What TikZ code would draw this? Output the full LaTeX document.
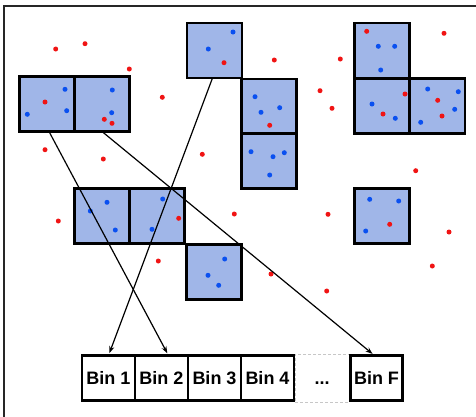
\documentclass[tikz,border=0pt]{standalone}
\usepackage{fontspec}
\setmainfont{Liberation Sans}
\usetikzlibrary{arrows.meta}
\definecolor{sqfill}{RGB}{160,182,232}
\definecolor{dotred}{RGB}{240,20,20}
\definecolor{dotblue}{RGB}{10,80,240}
\begin{document}
\begin{tikzpicture}[x=1bp,y=-1bp,
  sq/.style={draw=black, fill=sqfill, line width=2.7bp, minimum size=55bp, inner sep=0pt, outer sep=0pt},
  binbox/.style={draw=black, line width=2.7bp, minimum width=53bp, minimum height=45bp, inner sep=0pt, outer sep=0pt, font=\fontsize{18bp}{20bp}\selectfont\bfseries},
  dotsbox/.style={draw=black!22, dashed, dash pattern=on 3bp off 2bp, line width=0.6bp, minimum width=54bp, minimum height=48bp, inner sep=0pt, outer sep=0pt, font=\fontsize{18bp}{20bp}\selectfont\bfseries},
  arr/.style={-{Stealth[length=7bp,width=5bp]}, line width=1.2bp, shorten >=2.5bp},
  framestyle/.style={line width=1.8bp, draw=black!85},
  rdot/.style={fill=dotred},
  bdot/.style={fill=dotblue}]
\useasboundingbox (0,0) rectangle (476,416);
% frame
\coordinate (fbl) at (4,417);
\coordinate (ftl) at (4,6);
\coordinate (ftr) at (477,6);
\draw[framestyle] (fbl) -- (ftl) -- (ftr);
% squares
\node[sq] (a1) at (47,104) {};
\node[sq] (a2) at (102,104) {};
\node[sq] (t) at (214.5,50.5) {};
\node[sq] (c1) at (269,106.5) {};
\node[sq] (c2) at (269,161) {};
\node[sq] (l1) at (382,50.5) {};
\node[sq] (l2) at (382,106) {};
\node[sq] (l3) at (437.5,106) {};
\node[sq] (m1) at (102,216) {};
\node[sq] (m2) at (157,216) {};
\node[sq] (m3) at (214,272) {};
\node[sq] (s) at (382,216) {};
% dots
\foreach \x/\y in {55.7/49,85/43.7,129.3/69,162.3/97.3,45/149.7,103.3/159,202.3/154.3,274.3/60,340.3/59,320/90.7,332/108.3,444/33.3,415.7/170.7,58.3/221,234.3/214,158.3/261,328/214.3,449/232,432.3/266,271/274,326.7/291,
  45/102,104.3/119.3,112/123.3,224/62.7,269.7/125.3,366.7/31.3,405/94,383/114,437.7/100.3,442/116,178.7/218.3,389.7/224.3}
  \fill[rdot] (\x,\y) circle (2.5);
\foreach \x/\y in {65/89.3,66.7/110.7,27.3/114.3,112.3/90,111.7/112.7,233/32,208.3/49,255/96.7,279.7/107.7,261/112.3,251/151.7,273/156.7,284.3/152.7,269.7/175,378.3/46.3,394.7/46.3,380.7/70,372/104,395.3/118.3,427.7/89,458.3/91.7,454.7/109.3,420.7/122.3,107/202.3,90.3/211,115.3/230,162.7/199,152/229.3,224.7/259,208/275.3,218.7/285.3,369.7/199.3,398.7/201,365.7/231}
  \fill[bdot] (\x,\y) circle (2.5);
% bins
\node[binbox] (bin1) at (108.5,378) {Bin 1};
\node[binbox] (bin2) at (161.5,378) {Bin 2};
\node[binbox] (bin3) at (214.5,378) {Bin 3};
\node[binbox] (bin4) at (267.5,378) {Bin 4};
\node[dotsbox] (bdots) at (322,378) {\vphantom{B}...};
\node[binbox, minimum width=52bp] (binf) at (376.5,378) {Bin F};
% arrows
\draw[arr] ([xshift=2bp]a1.south) -- ([xshift=7bp]bin2.north);
\draw[arr] (a2.south) -- ([xshift=-2bp]binf.north);
\draw[arr] ([xshift=-2bp]t.south) -- (bin1.north);
\end{tikzpicture}
\end{document}
